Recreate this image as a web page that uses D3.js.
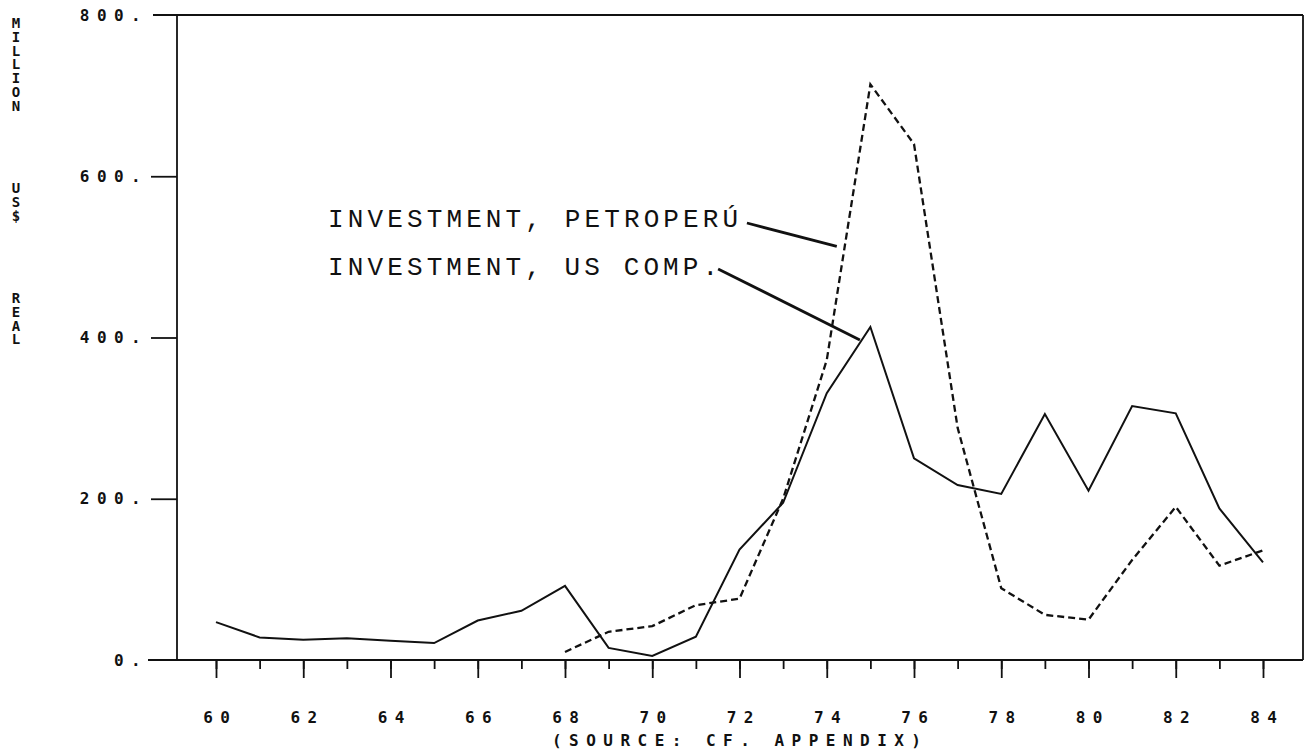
<!DOCTYPE html>
<meta charset="utf-8">

<style>
  body { margin: 0; background: #fff; }
  .plotter { font-family: "DejaVu Sans Mono", monospace; font-weight: bold; fill: #111; }
  .typed { font-family: "Liberation Mono", "Courier New", monospace; fill: #111; }
</style>

<script src="https://d3js.org/d3.v7.min.js"></script>

<div id="body"></div>

<script>

  // data (million US$, real)
  var years = [60, 61, 62, 63, 64, 65, 66, 67, 68, 69, 70, 71, 72, 73, 74, 75, 76, 77, 78, 79, 80, 81, 82, 83, 84]
  var usComp = [47, 28, 25, 27, 24, 21, 49, 61, 92, 15, 5, 29, 137, 195, 331, 413, 250, 217, 206, 305, 210, 315, 306, 188, 121]
  var petroperu = [null, null, null, null, null, null, null, null, 10, 35, 42, 68, 76, 200, 372, 714, 640, 288, 89, 56, 50, 124, 190, 117, 136]

  // tick labels
  var xTickValues = [60, 62, 64, 66, 68, 70, 72, 74, 76, 78, 80, 82, 84]
  var xTickLabels = ["60", "62", "64", "66", "68", "70", "72", "74", "76", "78", "80", "82", "84"]
  var yTickValues = [0, 200, 400, 600, 800]
  var yTickLabels = ["0.", "200.", "400.", "600.", "800."]

  var yTitle = "MILLION     US$     REAL"
  var sourceText = "(SOURCE: CF. APPENDIX)"
  var labelPetro = "INVESTMENT, PETROPERÚ"
  var labelUS = "INVESTMENT, US COMP."

  var width = 1314, height = 751

  var svg = d3.select("#body")
    .append("svg")
    .attr("width", width)
    .attr("height", height)

  // scales
  var x = d3.scaleLinear().domain([60, 84]).range([216, 1263])
  var y = d3.scaleLinear().domain([0, 800]).range([660, 15])

  var frameLeft = 177, frameRight = 1303

  // frame
  var frame = svg.append("g")
    .attr("stroke", "#111")
    .attr("stroke-width", 1.8)
    .attr("fill", "none")
  frame.append("line").attr("x1", 153).attr("x2", frameRight).attr("y1", y(800)).attr("y2", y(800))
  frame.append("line").attr("x1", 148).attr("x2", frameRight).attr("y1", y(0)).attr("y2", y(0))
  frame.append("line").attr("x1", frameLeft).attr("x2", frameLeft).attr("y1", y(800)).attr("y2", y(0))
  frame.append("line").attr("x1", frameRight).attr("x2", frameRight).attr("y1", y(800)).attr("y2", y(0))

  // x axis: minor ticks every year, major ticks + labels every two years
  var xMinor = svg.append("g")
    .attr("transform", "translate(0," + y(0) + ")")
    .call(d3.axisBottom(x).tickValues(years).tickSize(9).tickFormat(""))
  var xMajor = svg.append("g")
    .attr("transform", "translate(0," + y(0) + ")")
    .call(d3.axisBottom(x).tickValues(xTickValues).tickSize(18).tickPadding(47)
      .tickFormat(function (d, i) { return xTickLabels[i] }))
  ;[xMinor, xMajor].forEach(function (g) {
    g.select(".domain").remove()
    g.selectAll(".tick line").attr("stroke", "#111").attr("stroke-width", 1.8)
  })
  xMajor.selectAll(".tick text")
    .attr("class", "plotter")
    .attr("dy", "-0.1em")
    .attr("dx", 3.7)
    .style("font-size", "16px")
    .style("letter-spacing", "7.4px")

  // y axis: ticks at 200/400/600 (0 and 800 are frame lines), labels at all
  var yTicks = svg.append("g")
    .attr("transform", "translate(" + frameLeft + ",0)")
    .call(d3.axisLeft(y).tickValues([200, 400, 600]).tickSize(26).tickFormat(""))
  yTicks.select(".domain").remove()
  yTicks.selectAll(".tick line").attr("stroke", "#111").attr("stroke-width", 1.8)

  var yLabels = svg.append("g")
    .attr("transform", "translate(" + frameLeft + ",0)")
    .call(d3.axisLeft(y).tickValues(yTickValues).tickSize(0).tickPadding(29)
      .tickFormat(function (d, i) { return yTickLabels[i] }))
  yLabels.select(".domain").remove()
  yLabels.selectAll(".tick text")
    .attr("class", "plotter")
    .style("font-size", "16px")
    .style("letter-spacing", "7.4px")

  // vertical y title: one text, one letter per row
  svg.append("text")
    .attr("class", "plotter")
    .attr("text-anchor", "middle")
    .style("font-size", "14px")
    .selectAll("tspan")
    .data(yTitle.split("").map(function (c, i) { return { c: c, i: i } }).filter(function (d) { return d.c != " " }))
    .enter()
    .append("tspan")
    .attr("x", 16)
    .attr("y", function (d) { return 28 + d.i * 13.75 })
    .text(function (d) { return d.c })

  // source line under the axis
  svg.append("text")
    .attr("class", "plotter")
    .attr("x", 552)
    .attr("y", 740)
    .attr("dy", "0.36em")
    .attr("textLength", 369)
    .attr("lengthAdjust", "spacing")
    .style("font-size", "16px")
    .text(sourceText)

  // series
  var line = d3.line()
    .defined(function (d) { return d[1] != null })
    .x(function (d) { return x(d[0]) })
    .y(function (d) { return y(d[1]) })

  svg.append("path")
    .datum(years.map(function (yr, i) { return [yr, usComp[i]] }))
    .attr("d", line)
    .attr("fill", "none")
    .attr("stroke", "#111")
    .attr("stroke-width", 2)
    .attr("stroke-linejoin", "miter")

  svg.append("path")
    .datum(years.map(function (yr, i) { return [yr, petroperu[i]] }))
    .attr("d", line)
    .attr("fill", "none")
    .attr("stroke", "#111")
    .attr("stroke-width", 2.3)
    .attr("stroke-dasharray", "7,4")

  // typed annotations with leader lines (data units)
  var notes = [
    { text: labelPetro, tx: 62.57, ty: 537, len: 410, lx1: 72.17, ly1: 542, lx2: 74.23, ly2: 513 },
    { text: labelUS, tx: 62.57, ty: 477.5, len: 390, lx1: 71.51, ly1: 485, lx2: 74.76, ly2: 397 }
  ]

  notes.forEach(function (n) {
    svg.append("text")
      .attr("class", "typed")
      .attr("x", x(n.tx))
      .attr("y", y(n.ty))
      .attr("textLength", n.len)
      .attr("lengthAdjust", "spacing")
      .style("font-size", "26px")
      .text(n.text)
    svg.append("line")
      .attr("x1", x(n.lx1)).attr("y1", y(n.ly1))
      .attr("x2", x(n.lx2)).attr("y2", y(n.ly2))
      .attr("stroke", "#111")
      .attr("stroke-width", 2.8)
  })

</script>
